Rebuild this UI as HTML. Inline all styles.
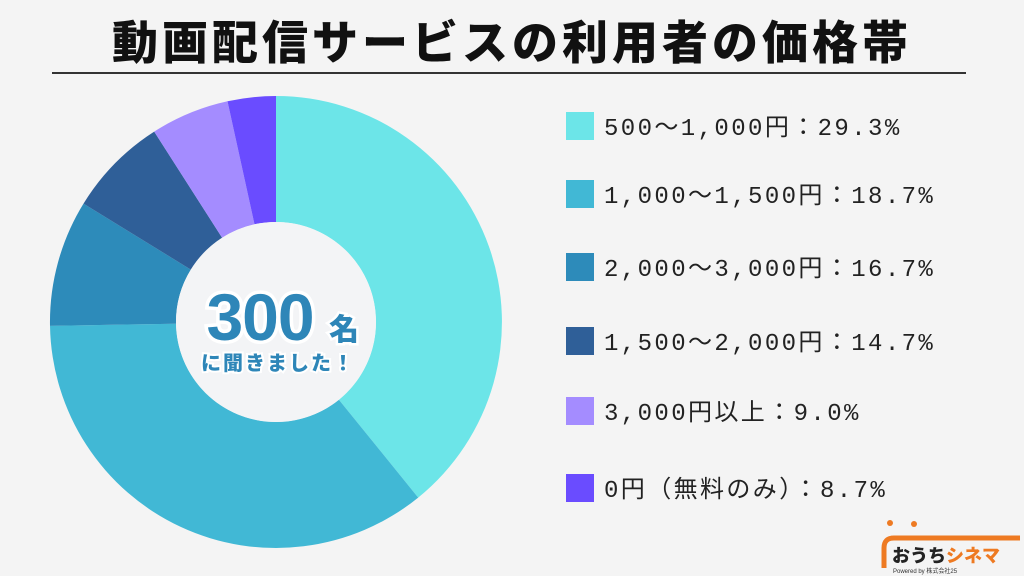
<!DOCTYPE html><html><head><meta charset="utf-8"><style>
body{margin:0;width:1024px;height:576px;background:#f4f4f4;position:relative;overflow:hidden;font-family:"Liberation Sans","Noto Sans CJK JP",sans-serif}
.t{position:absolute;left:0;width:1024px;top:8px;text-align:center;font-size:46px;font-weight:900;letter-spacing:4px;color:#111;font-family:"Noto Sans CJK JP",sans-serif;line-height:64px}
.ln{position:absolute;left:52px;top:72px;width:914px;height:2px;background:#333}
.lg{position:absolute;left:566px;font-size:24px;color:#222;white-space:nowrap;line-height:30px;font-family:"Liberation Mono","Noto Sans CJK JP",monospace;letter-spacing:2.4px}
.lg i{display:inline-block;width:28px;height:28px;vertical-align:-5px;margin-right:10px}
</style></head><body>
<div class="t">動画配信サービスの利用者の価格帯</div>
<div class="ln"></div>
<svg width="1024" height="576" style="position:absolute;left:0;top:0">
<path d="M276,96 A226,226 0 0 1 418.2,497.6 L338.9,399.7 A100,100 0 0 0 276,222Z" fill="#6ce5e8"/>
<path d="M418.2,497.6 A226,226 0 0 1 50,325.9 L176,323.7 A100,100 0 0 0 338.9,399.7Z" fill="#41b8d5"/>
<path d="M50,325.9 A226,226 0 0 1 83.5,203.6 L190.8,269.6 A100,100 0 0 0 176,323.7Z" fill="#2d8bba"/>
<path d="M83.5,203.6 A226,226 0 0 1 154.2,131.6 L222.1,237.8 A100,100 0 0 0 190.8,269.6Z" fill="#2f5f98"/>
<path d="M154.2,131.6 A226,226 0 0 1 227.5,101.3 L254.5,224.3 A100,100 0 0 0 222.1,237.8Z" fill="#a48cff"/>
<path d="M227.5,101.3 A226,226 0 0 1 276,96 L276,222 A100,100 0 0 0 254.5,224.3Z" fill="#6a4cff"/>
<circle cx="276" cy="322" r="100" fill="#f3f4f6"/>
<text x="260" y="340" text-anchor="middle" font-size="66" font-weight="900" fill="#2e86b8" stroke="#fff" stroke-width="7" paint-order="stroke" font-family="Liberation Sans,sans-serif" letter-spacing="-1">300</text>
<text x="344" y="340" text-anchor="middle" font-size="30" font-weight="900" fill="#2e86b8" stroke="#fff" stroke-width="5" paint-order="stroke" font-family="Noto Sans CJK JP,sans-serif">名</text>
<text x="278" y="370" text-anchor="middle" font-size="20" font-weight="900" fill="#2e86b8" stroke="#fff" stroke-width="4" paint-order="stroke" font-family="Noto Sans CJK JP,sans-serif" letter-spacing="2">に聞きました！</text>
<path d="M884,568 L884,548 Q884,538 894,538 L1020,538" stroke="#ee7a22" stroke-width="5" fill="none"/>
<circle cx="890" cy="523" r="3" fill="#ee7a22"/><circle cx="914" cy="524" r="3" fill="#ee7a22"/>
<text x="892" y="562" font-size="18" font-weight="900" fill="#222" font-family="Noto Sans CJK JP,sans-serif">おうち<tspan fill="#ee7a22">シネマ</tspan></text>
<text x="893" y="573" font-size="6" fill="#333">Powered by 株式会社25</text>
</svg>
<div class="lg" style="top:112px"><i style="background:#6ce5e8"></i>500～1,000円：29.3%</div>
<div class="lg" style="top:180px"><i style="background:#41b8d5"></i>1,000～1,500円：18.7%</div>
<div class="lg" style="top:253px"><i style="background:#2d8bba"></i>2,000～3,000円：16.7%</div>
<div class="lg" style="top:327px"><i style="background:#2f5f98"></i>1,500～2,000円：14.7%</div>
<div class="lg" style="top:397px"><i style="background:#a48cff"></i>3,000円以上：9.0%</div>
<div class="lg" style="top:474px"><i style="background:#6a4cff"></i>0円（無料のみ）：8.7%</div>
</body></html>
